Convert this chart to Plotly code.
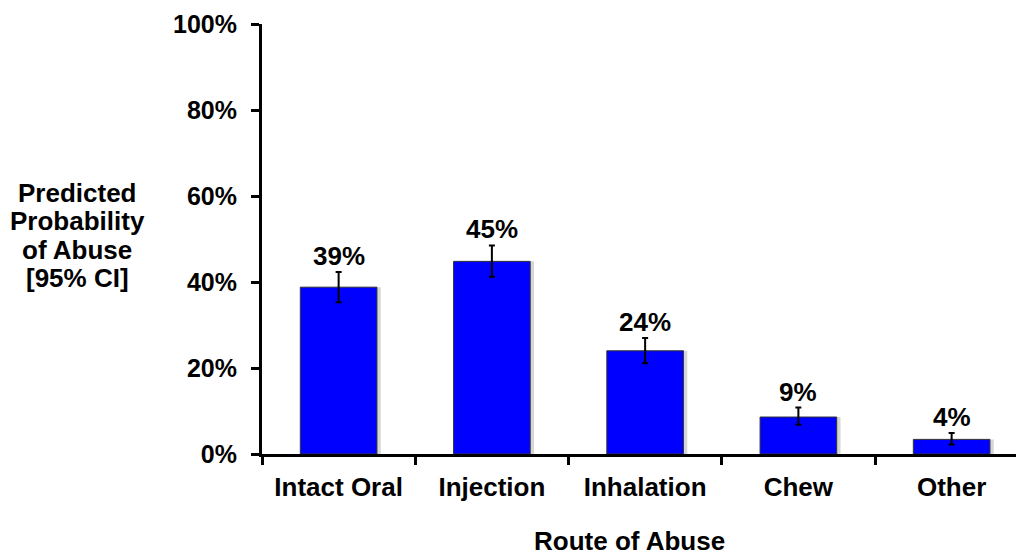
import plotly.graph_objects as go

categories = ["Intact Oral", "Injection", "Inhalation", "Chew", "Other"]
values = [38.8, 44.8, 24.0, 8.6, 3.4]
ci_upper = [42.3, 48.5, 27.0, 10.8, 4.9]
ci_lower = [35.3, 41.2, 21.1, 6.8, 2.2]
labels = ["39%", "45%", "24%", "9%", "4%"]
y_title_lines = ["Predicted", "Probability", "of Abuse", "[95% CI]"]

err_plus = [u - v for u, v in zip(ci_upper, values)]
err_minus = [v - l for v, l in zip(values, ci_lower)]

FONT = "Liberation Sans, Arial, sans-serif"
FS = 26

fig = go.Figure()
# soft shadow behind bars
fig.add_trace(go.Bar(
    x=categories, y=values, width=0.5, offset=-0.225,
    marker=dict(color="rgba(0,0,0,0.16)", line=dict(width=0)),
    hoverinfo="skip",
))
fig.add_trace(go.Bar(
    x=categories, y=values, width=0.5, offset=-0.25,
    marker=dict(color="#0000FF", line=dict(color="#333333", width=1)),
    error_y=dict(type="data", symmetric=False, array=err_plus, arrayminus=err_minus,
                 color="black", thickness=2, width=3),
    hoverinfo="skip",
))

for c, u, t in zip(categories, ci_upper, labels):
    fig.add_annotation(x=c, y=u, text="<b>%s</b>" % t, showarrow=False,
                       yanchor="bottom", yshift=-1,
                       font=dict(family=FONT, size=FS, color="black"))

line_y = [0.607, 0.541, 0.475, 0.409]
for txt, yy in zip(y_title_lines, line_y):
    fig.add_annotation(xref="paper", yref="paper", x=-0.245, y=yy,
                       text="<b>%s</b>" % txt, showarrow=False,
                       xanchor="center", yanchor="middle",
                       font=dict(family=FONT, size=FS, color="black"))
fig.add_annotation(xref="paper", yref="paper", x=0.488, y=-0.203,
                   text="<b>Route of Abuse</b>", showarrow=False,
                   xanchor="center", yanchor="middle",
                   font=dict(family=FONT, size=FS, color="black"))

fig.update_layout(
    width=1016, height=556,
    margin=dict(l=262, r=0, t=24, b=102, autoexpand=False),
    plot_bgcolor="white", paper_bgcolor="white",
    showlegend=False, barmode="overlay",
    font=dict(family=FONT, size=FS, color="black"),
)
fig.update_xaxes(
    range=[-0.5, 4.42], showline=True, linecolor="black", linewidth=3,
    ticks="outside", tickson="boundaries", ticklen=8, tickwidth=3, tickcolor="black",
    tickfont=dict(family=FONT, size=FS, color="black", weight="bold"),
    ticklabelstandoff=8,
    showgrid=False, zeroline=False, automargin=False,
)
fig.update_yaxes(
    range=[0, 100], dtick=20, ticksuffix="%", showline=True, linecolor="black", linewidth=3,
    ticks="outside", ticklen=8, tickwidth=3, tickcolor="black",
    tickfont=dict(family=FONT, size=25, color="black", weight="bold"),
    ticklabelstandoff=9,
    showgrid=False, zeroline=False, automargin=False,
)

fig.write_html("out.html", config={"displayModeBar": False},
               post_script="document.body.style.margin='0';")
